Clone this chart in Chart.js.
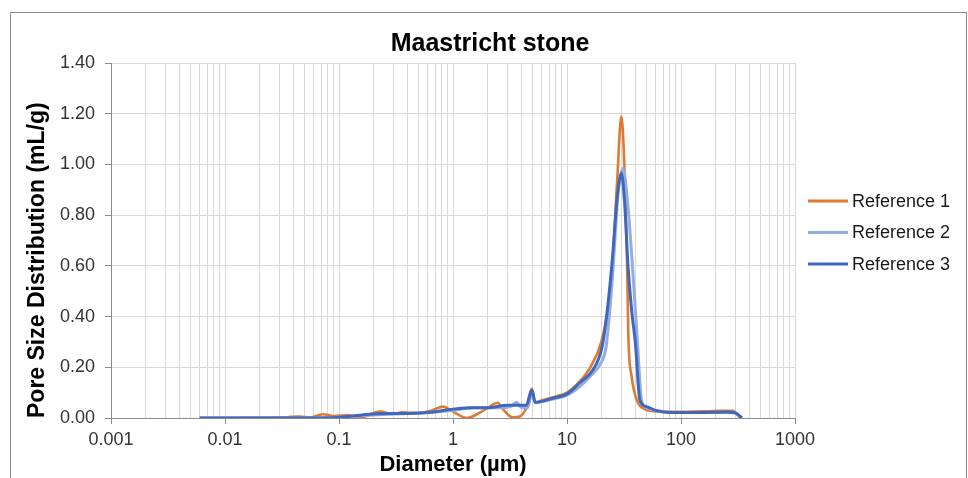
<!DOCTYPE html>
<html>
<head>
<meta charset="utf-8">
<title>Maastricht stone</title>
<script src="https://cdn.jsdelivr.net/npm/chart.js@4.4.1/dist/chart.umd.min.js"></script>
<style>
  html, body { margin: 0; padding: 0; background: #fff; }
  #wrap { width: 968px; height: 478px; position: relative; }
</style>
</head>
<body>
<div id="wrap"><canvas id="psd"></canvas></div>
<script>
  "use strict";

  var chartTitle = 'Maastricht stone';
  var xTitle = 'Diameter (\u00b5m)';
  var yTitle = 'Pore Size Distribution (mL/g)';
  var seriesNames = ['Reference 1', 'Reference 2', 'Reference 3'];
  var seriesColors = ['#E07A32', '#93ADE0', '#3F68BC'];

  // Diameters (um) and pore size distribution (mL/g).
  var ref1Diam = [0.006, 0.01, 0.02, 0.035, 0.045, 0.055, 0.072, 0.09, 0.118, 0.15, 0.23, 0.29, 0.36, 0.5, 0.65, 0.82, 1.0, 1.33, 1.7, 2.1, 2.45, 2.8, 3.3, 3.8, 4.4, 4.9, 5.25, 6, 8, 10, 13, 16, 20, 23, 25, 27.5, 30, 32, 33.7, 34.5, 37, 41, 48, 60, 80, 150, 220, 285, 333];
  var ref1Vals = [0, 0, 0.001, 0.003, 0.006, 0.002, 0.015, 0.008, 0.012, 0.001, 0.025, 0.016, 0.022, 0.02, 0.03, 0.045, 0.025, 0.0, 0.02, 0.045, 0.06, 0.03, 0.003, 0.005, 0.04, 0.115, 0.06, 0.07, 0.085, 0.1, 0.145, 0.2, 0.3, 0.44, 0.6, 0.93, 1.19, 0.97, 0.6, 0.33, 0.16, 0.07, 0.035, 0.026, 0.024, 0.026, 0.028, 0.028, 0];

  var ref2Diam = [0.006, 0.05, 0.1, 0.2, 0.5, 1, 1.5, 2.5, 3.2, 3.6, 4.0, 4.5, 4.95, 5.3, 7, 10, 13, 16, 20, 22, 25, 28, 31, 34, 37.5, 41.5, 45, 50, 60, 80, 150, 250, 300, 340];
  var ref2Vals = [0, 0, 0.003, 0.012, 0.02, 0.03, 0.04, 0.04, 0.045, 0.062, 0.04, 0.04, 0.1, 0.06, 0.072, 0.09, 0.125, 0.165, 0.22, 0.28, 0.55, 0.88, 0.985, 0.85, 0.6, 0.3, 0.07, 0.04, 0.03, 0.022, 0.022, 0.022, 0.02, 0];

  var ref3Diam = [0.006, 0.05, 0.09, 0.2, 0.4, 0.67, 1.0, 1.5, 2.0, 3.0, 4.4, 4.93, 5.25, 7.5, 10, 13, 16.9, 20.3, 22.5, 24.7, 28, 30, 32, 34.3, 37, 39.7, 43.6, 50, 60, 80, 150, 250, 300, 343];
  var ref3Vals = [0, 0, 0.001, 0.016, 0.018, 0.024, 0.035, 0.04, 0.04, 0.05, 0.05, 0.11, 0.062, 0.078, 0.095, 0.14, 0.19, 0.28, 0.42, 0.6, 0.9, 0.966, 0.85, 0.6, 0.42, 0.3, 0.07, 0.045, 0.03, 0.022, 0.022, 0.024, 0.02, 0];

  var xMajorTicks = [0.001, 0.01, 0.1, 1, 10, 100, 1000];
  var yTicks = [0, 0.2, 0.4, 0.6, 0.8, 1.0, 1.2, 1.4];

  var FONT = "'Liberation Sans', Arial, sans-serif";

  function toPoints(xs, ys) {
    return xs.map(function (x, i) { return { x: x, y: ys[i] }; });
  }

  // Every 1..9 x 10^k between the majors, for the light vertical grid.
  function logGridTicks() {
    var out = [];
    for (var i = 0; i < xMajorTicks.length; i++) {
      var base = xMajorTicks[i];
      if (i === xMajorTicks.length - 1) { out.push({ value: base, major: true }); break; }
      for (var m = 1; m <= 9; m++) {
        out.push({ value: +(base * m).toPrecision(3), major: m === 1 });
      }
    }
    return out;
  }

  // Frame round the figure, the title over the whole width and the legend on the right.
  var extrasPlugin = {
    id: 'extras',
    beforeDraw: function (chart) {
      var ctx = chart.ctx;
      ctx.save();
      ctx.strokeStyle = '#8c8c8c';
      ctx.lineWidth = 1;
      ctx.strokeRect(10.5, 12.5, 956, 500);
      ctx.restore();
    },
    afterDraw: function (chart) {
      var ctx = chart.ctx;
      ctx.save();
      ctx.fillStyle = '#000';
      ctx.font = 'bold 25px ' + FONT;
      ctx.textAlign = 'center';
      ctx.textBaseline = 'middle';
      ctx.fillText(chartTitle, 490, 44);

      ctx.font = '18px ' + FONT;
      ctx.textAlign = 'left';
      chart.data.datasets.forEach(function (ds, i) {
        var y = 201 + i * 31.5;
        ctx.strokeStyle = ds.borderColor;
        ctx.lineWidth = 3;
        ctx.beginPath();
        ctx.moveTo(808, y);
        ctx.lineTo(848, y);
        ctx.stroke();
        ctx.fillStyle = '#1a1a1a';
        ctx.fillText(ds.label, 852, y + 1);
      });
      ctx.restore();
    }
  };

  var series = [toPoints(ref1Diam, ref1Vals), toPoints(ref2Diam, ref2Vals), toPoints(ref3Diam, ref3Vals)];

  new Chart(document.getElementById('psd').getContext('2d'), {
    type: 'line',
    data: {
      datasets: series.map(function (pts, i) {
        return {
          label: seriesNames[i],
          data: pts,
          borderColor: seriesColors[i],
          backgroundColor: seriesColors[i],
          borderWidth: i === 0 ? 2.6 : 3,
          pointRadius: 0,
          fill: false,
          cubicInterpolationMode: 'monotone',
          order: 3 - i
        };
      })
    },
    options: {
      responsive: true,
      maintainAspectRatio: false,
      animation: false,
      layout: { padding: { left: 0, right: 173, top: 63, bottom: 0 } },
      plugins: {
        legend: { display: false },
        tooltip: { enabled: false },
        title: { display: false }
      },
      scales: {
        x: {
          type: 'logarithmic',
          min: 0.001,
          max: 1000,
          afterBuildTicks: function (scale) { scale.ticks = logGridTicks(); },
          afterFit: function (scale) { scale.height = 60; },
          ticks: {
            autoSkip: false,
            maxRotation: 0,
            padding: 5,
            color: '#333',
            font: { family: FONT, size: 18 },
            callback: function (v) {
              return xMajorTicks.indexOf(v) >= 0 ? String(v) : '';
            }
          },
          grid: {
            color: '#d9d9d9',
            lineWidth: 1,
            tickLength: 6,
            tickColor: function (c) { return c.tick && c.tick.major ? '#8c8c8c' : 'rgba(0,0,0,0)'; }
          },
          border: { color: '#8c8c8c', width: 1 },
          title: {
            display: true,
            text: xTitle,
            color: '#000',
            font: { family: FONT, size: 22, weight: 'bold' },
            padding: { top: 0, bottom: 0 }
          }
        },
        y: {
          min: 0,
          max: 1.4,
          afterBuildTicks: function (scale) {
            scale.ticks = yTicks.map(function (v) { return { value: v }; });
          },
          afterFit: function (scale) { scale.width = 111; },
          ticks: {
            padding: 10,
            color: '#333',
            font: { family: FONT, size: 18 },
            callback: function (v) { return Number(v).toFixed(2); }
          },
          grid: { color: '#d9d9d9', lineWidth: 1, tickLength: 6, tickColor: '#8c8c8c' },
          border: { color: '#8c8c8c', width: 1 },
          title: {
            display: true,
            text: yTitle,
            align: 'start',
            color: '#000',
            font: { family: FONT, size: 23, weight: 'bold' },
            padding: { top: 24, bottom: 0 }
          }
        }
      }
    },
    plugins: [extrasPlugin]
  });
</script>
</body>
</html>
